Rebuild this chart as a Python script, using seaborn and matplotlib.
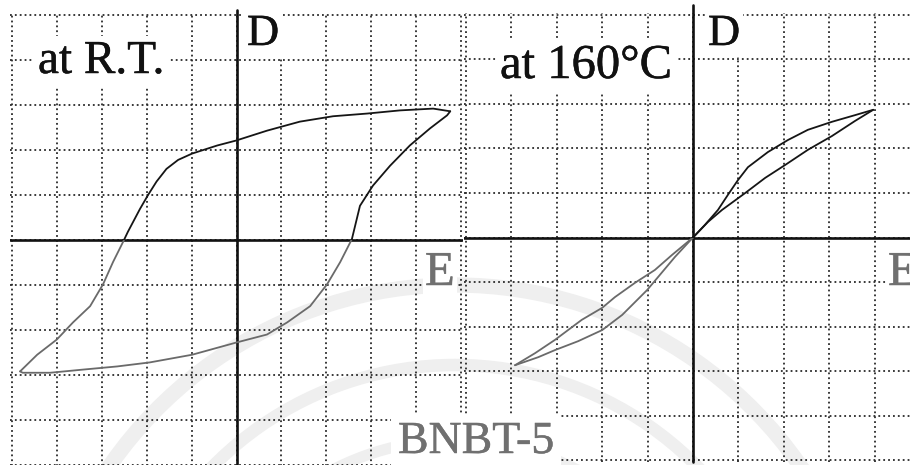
import matplotlib
matplotlib.use("Agg")
import matplotlib.pyplot as plt
import matplotlib.patheffects as pe
from matplotlib.patches import Rectangle, Arc
from matplotlib.transforms import IdentityTransform
import pandas as pd
import seaborn as sns

# D-E hysteresis traces in oscilloscope grid divisions (E horizontal, D vertical)
# room temperature: descending branch (+Emax -> -Emax)
rt_down_E = [4.76, 4.38, 3.64, 2.91, 2.15, 1.41, 0.68, -0.01, -0.43, -0.99, -1.30, -1.56,
             -1.78, -1.97, -2.15, -2.42, -2.53, -2.75, -2.97, -3.26, -3.64, -4.00, -4.44, -4.82]
rt_down_D = [2.86, 2.92, 2.88, 2.81, 2.75, 2.63, 2.43, 2.21, 2.10, 1.92, 1.78, 1.58,
             1.30, 1.00, 0.69, 0.18, -0.05, -0.49, -0.98, -1.47, -1.83, -2.21, -2.55, -2.92]
# room temperature: ascending branch (-Emax -> +Emax)
rt_up_E = [-4.82, -4.76, -4.15, -3.42, -2.66, -1.93, -0.99, -0.01, 0.68, 1.13, 1.64, 2.02,
           2.31, 2.57, 2.75, 3.04, 3.42, 3.86, 4.31, 4.69, 4.76]
rt_up_D = [-2.92, -2.95, -2.95, -2.88, -2.81, -2.72, -2.55, -2.28, -2.10, -1.83, -1.47, -0.98,
           -0.49, 0.02, 0.76, 1.21, 1.65, 2.10, 2.48, 2.77, 2.86]

# 160 °C: descending branch
ht_down_E = [3.97, 3.57, 3.06, 2.53, 2.09, 1.65, 1.21, 0.99, 0.77, 0.55, 0.26, 0.00,
             -0.46, -0.84, -1.28, -1.72, -2.00, -2.45, -3.04, -3.48, -3.92]
ht_down_D = [2.87, 2.75, 2.60, 2.42, 2.19, 1.92, 1.58, 1.29, 0.96, 0.62, 0.28, 0.00,
             -0.39, -0.73, -1.02, -1.34, -1.58, -1.85, -2.30, -2.60, -2.87]
# 160 °C: ascending branch
ht_up_E = [-3.92, -3.41, -3.04, -2.53, -2.00, -1.56, -1.01, -0.68, -0.40, 0.00,
           0.33, 0.64, 1.15, 1.59, 2.03, 2.53, 3.06, 3.57, 3.97]
ht_up_D = [-2.87, -2.69, -2.53, -2.33, -2.08, -1.74, -1.18, -0.78, -0.44, 0.00,
           0.35, 0.62, 1.00, 1.34, 1.63, 1.97, 2.28, 2.62, 2.87]

panel_titles = ["at R.T.", "at 160°C"]
sample_label = "BNBT-5"
field_label = "E"
disp_label = "D"

W, H, DPI = 910, 465, 100
SERIF = ["Liberation Serif", "DejaVu Serif"]
sns.set_style("white")
plt.rcParams["font.family"] = SERIF

fig = plt.figure(figsize=(W / DPI, H / DPI), dpi=DPI)
fig.patch.set_facecolor("white")

# faint emblem arcs in the paper background
for r, lw in ((420, 11), (340, 9), (265, 8)):
    fig.add_artist(Arc((455, H - 705), 2 * r, 2 * r, theta1=20, theta2=160,
                       transform=IdentityTransform(), color="#efefef",
                       lw=lw, zorder=-5))

PAD = 0.05


def add_panel(x_left, x_right, y_top, y_bot):
    """Axes whose -5..5 grid spans the given pixel box."""
    sx = (x_right - x_left) / 10
    sy = (y_bot - y_top) / 10
    l, r = x_left - PAD * sx, x_right + PAD * sx
    t, b = y_top - PAD * sy, y_bot + PAD * sy
    ax = fig.add_axes([l / W, 1 - b / H, (r - l) / W, (b - t) / H])
    ax.set_xlim(-5 - PAD, 5 + PAD)
    ax.set_ylim(-5 - PAD, 5 + PAD)
    ax.set_xticks(range(-5, 6))
    ax.set_yticks(range(-5, 6))
    ax.tick_params(length=0, labelbottom=False, labelleft=False)
    for s in ax.spines.values():
        s.set_visible(False)
    ax.set_facecolor("none")
    ax.grid(True, color="#2a2a2a", linestyle=(0, (1, 1.7)), linewidth=1.3)
    ax.set_axisbelow(True)
    return ax


def draw_axes_cross(ax, top):
    ax.axhline(0, color="#111111", lw=1.9, zorder=3)
    ax.plot([0, 0], [-5 - PAD, top], color="#111111", lw=1.9,
            clip_on=False, zorder=3)


def draw_branch(ax, E, D):
    df = pd.DataFrame({"E": E, "D": D})
    halves = ((Rectangle((-6, -6), 12, 6, transform=ax.transData), "#6a6a6a"),
              (Rectangle((-6, 0), 12, 6, transform=ax.transData), "#151515"))
    for rect, color in halves:
        sns.lineplot(data=df, x="E", y="D", sort=False, estimator=None,
                     color=color, lw=1.3, ax=ax, zorder=4)
        ax.lines[-1].set_clip_path(rect)
    ax.set_xlabel("")
    ax.set_ylabel("")


ax_rt = add_panel(12, 461, 15, 465)
ax_ht = add_panel(466, 920, 15, 460)

draw_axes_cross(ax_rt, 5.12)
draw_axes_cross(ax_ht, 5.22)

draw_branch(ax_rt, rt_down_E, rt_down_D)
draw_branch(ax_rt, rt_up_E, rt_up_D)
draw_branch(ax_ht, ht_down_E, ht_down_D)
draw_branch(ax_ht, ht_up_E, ht_up_D)


def label(x, y, s, size, color="#111111", pad=2.5):
    t = fig.text(x / W, 1 - y / H, s, fontsize=size, color=color,
                 family=SERIF, ha="left", va="baseline", zorder=10,
                 bbox=dict(facecolor="white", edgecolor="none", pad=pad))
    # slightly heavier strokes, like printed type
    t.set_path_effects([pe.withStroke(linewidth=0.35, foreground=color)])


label(38, 73, panel_titles[0], 34, pad=3)
label(500, 78, panel_titles[1], 35, pad=3)
label(247, 45, disp_label, 32, pad=2)
label(708, 45, disp_label, 32, pad=2)
label(425, 285, field_label, 35, color="#707070", pad=1.5)
label(888, 285, field_label, 35, color="#707070", pad=1.5)
label(398, 453, sample_label, 33, color="#707070", pad=5)

fig.savefig("out.png", dpi=DPI, facecolor="white")
